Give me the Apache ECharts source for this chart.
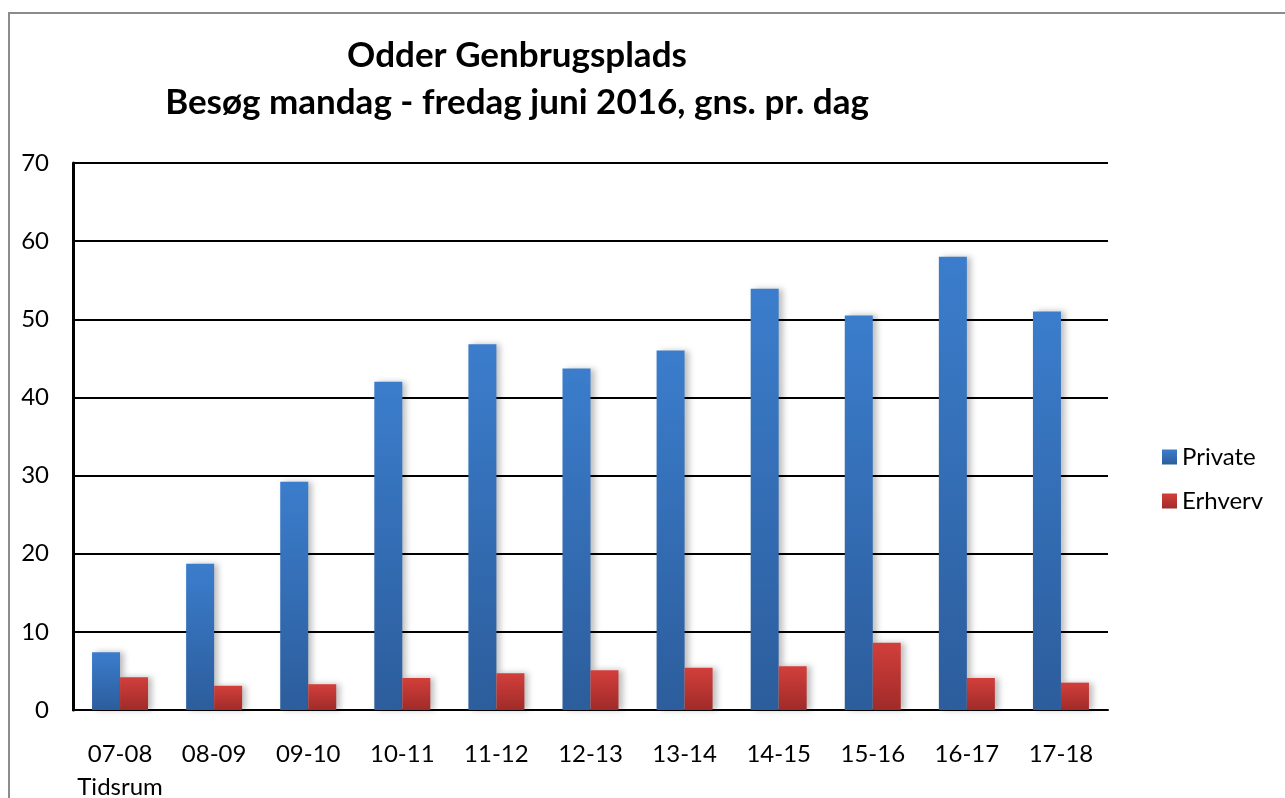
<!DOCTYPE html>
<html>
<head>
<meta charset="utf-8">
<script src="https://cdn.jsdelivr.net/npm/echarts@6/dist/echarts.min.js"></script>
<style>
  html, body { margin: 0; padding: 0; background: #fff; }
  #chart { width: 1285px; height: 798px; }
</style>
</head>
<body>
<div id="chart"></div>
<script>
// data
const tidsrum = ["07-08", "08-09", "09-10", "10-11", "11-12", "12-13", "13-14", "14-15", "15-16", "16-17", "17-18"];
const privateBesog = [7.4, 18.7, 29.2, 42.0, 46.8, 43.7, 46.0, 53.9, 50.5, 58.0, 51.0];
const erhvervBesog = [4.2, 3.1, 3.3, 4.1, 4.7, 5.1, 5.4, 5.6, 8.6, 4.1, 3.5];

const font = "Lato, 'Open Sans', sans-serif";

const gradient = (top, bottom) =>
  new echarts.graphic.LinearGradient(0, 0, 0, 1, [
    { offset: 0, color: top },
    { offset: 1, color: bottom },
  ]);

const blue = gradient("#3b7dcc", "#2c5d9c");
const red = gradient("#d23f3b", "#a02b29");

const myChart = echarts.init(document.getElementById("chart"));

const options = {
  animation: false,
  textStyle: { fontFamily: font },
  title: {
    text: "Odder Genbrugsplads\nBesøg mandag - fredag juni 2016, gns. pr. dag",
    left: 512,
    top: 27,
    textAlign: "center",
    textStyle: {
      fontFamily: font,
      fontWeight: "bold",
      fontSize: 35,
      lineHeight: 47,
      color: "#000",
    },
  },
  graphic: [
    {
      type: "rect",
      shape: { x: 9, y: 13, width: 1300, height: 800 },
      style: { fill: "none", stroke: "#8c8c8c", lineWidth: 2 },
      silent: true,
    },
  ],
  legend: {
    orient: "vertical",
    left: 1157,
    top: 440,
    itemWidth: 15,
    itemHeight: 15,
    itemGap: 20,
    icon: "rect",
    textStyle: { fontFamily: font, fontSize: 24, color: "#000" },
    data: ["Private", "Erhverv"],
  },
  grid: {
    left: 73,
    right: 177,
    top: 163,
    bottom: 88,
    outerBoundsMode: "none",
  },
  xAxis: {
    type: "category",
    data: tidsrum,
    axisLine: { lineStyle: { color: "#000", width: 2 } },
    axisTick: { show: false },
    axisLabel: {
      interval: 0,
      margin: 28,
      fontSize: 24,
      color: "#000",
      lineHeight: 33,
      formatter: (value, index) => (index === 0 ? value + "\nTidsrum" : value),
    },
  },
  yAxis: {
    type: "value",
    min: 0,
    max: 70,
    interval: 10,
    axisLine: { show: true, lineStyle: { color: "#000", width: 3 } },
    axisTick: { show: false },
    axisLabel: { margin: 24, fontSize: 24, color: "#000" },
    splitLine: { lineStyle: { color: "#000", width: 2 } },
  },
  series: [
    {
      name: "Private",
      type: "bar",
      data: privateBesog,
      barWidth: 28,
      barGap: "0%",
      itemStyle: {
        color: blue,
        shadowColor: "rgba(0,0,0,0.25)",
        shadowBlur: 6,
        shadowOffsetX: 4,
      },
    },
    {
      name: "Erhverv",
      type: "bar",
      data: erhvervBesog,
      barWidth: 28,
      barGap: "0%",
      itemStyle: {
        color: red,
        shadowColor: "rgba(0,0,0,0.25)",
        shadowBlur: 6,
        shadowOffsetX: 4,
      },
    },
  ],
};

myChart.setOption(options);
</script>
</body>
</html>
